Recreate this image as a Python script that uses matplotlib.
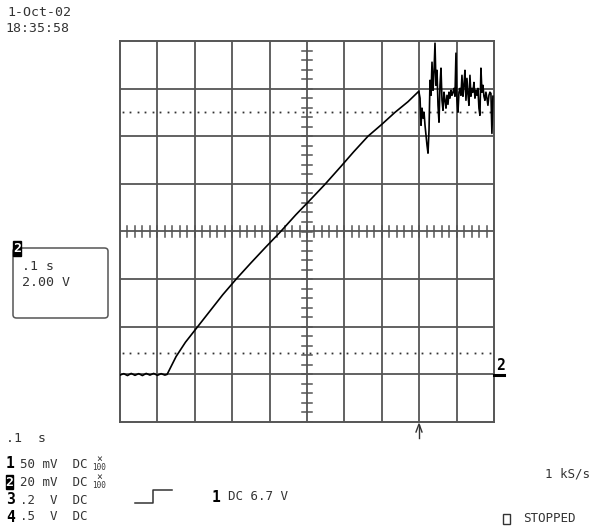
import numpy as np
import matplotlib
matplotlib.use("Agg")
import matplotlib.pyplot as plt
from matplotlib.patches import FancyBboxPatch, Rectangle

W, H = 599, 526
# ---------------- data (time in s, voltage in V) ----------------
base_t = [0.000, 0.010, 0.020, 0.030, 0.040, 0.050, 0.060, 0.070, 0.080, 0.090, 0.100, 0.110, 0.120, 0.126]
base_v = [-0.03, 0.03, -0.05, 0.04, -0.04, 0.03, -0.05, 0.04, -0.03, 0.04, -0.04, 0.03, -0.03, 0.00]

ramp_t = [0.150, 0.175, 0.206, 0.240, 0.275, 0.310, 0.350, 0.390, 0.428, 0.470, 0.510,
          0.548, 0.590, 0.625, 0.663, 0.700, 0.735, 0.770, 0.799]
ramp_v = [0.75, 1.35, 1.97, 2.65, 3.35, 3.99, 4.68, 5.35, 5.97, 6.70, 7.35,
          7.98, 8.72, 9.35, 10.00, 10.50, 11.00, 11.45, 11.89]

noise_v = [11.60, 10.46, 11.18, 10.76, 11.01, 10.46, 10.04, 9.62, 9.29, 10.25, 12.35, 11.72,
           13.11, 11.93, 12.69, 13.91, 12.14, 12.77, 11.30, 10.59, 12.14, 12.86, 11.51, 11.09,
           11.85, 11.51, 11.18, 11.72, 11.34, 11.85, 11.60, 11.93, 11.72, 11.85, 12.01, 11.68,
           13.49, 11.51, 11.01, 11.85, 12.01, 11.72, 12.56, 11.68, 12.14, 12.77, 11.51, 12.43,
           11.76, 11.30, 12.56, 11.68, 12.01, 11.85, 12.26, 11.60, 11.93, 11.72, 12.01, 11.18,
           10.88, 12.86, 11.85, 12.14, 11.68, 11.51, 11.85, 11.60, 11.30, 11.72, 11.85, 11.80,
           10.12, 11.68]
noise_t0, noise_dt = 0.8022, 0.00267
noise_t = noise_t0 + noise_dt * np.arange(len(noise_v))

cursor_levels = [0.90, 11.0]
t_div, v_div = 0.1, 2.0
n_xdiv, n_ydiv = 10, 8
v_min = -2.0

# ---------------- figure ----------------
fig = plt.figure(figsize=(W / 100, H / 100), dpi=100)
fig.patch.set_facecolor("white")
L, R, T, B = 120, 494, 41, 422
ax = fig.add_axes([L / W, 1 - B / H, (R - L) / W, (B - T) / H])
ax.set_xlim(0, n_xdiv * t_div)
ax.set_ylim(v_min, v_min + n_ydiv * v_div)
ax.set_xticks([]); ax.set_yticks([])
for s in ax.spines.values():
    s.set_color("#555555"); s.set_linewidth(1.4)

gc = "#555555"
for i in range(1, n_xdiv):
    ax.axvline(i * t_div, color=gc, lw=1.3, zorder=1)
for j in range(1, n_ydiv):
    ax.axhline(v_min + j * v_div, color=gc, lw=1.3, zorder=1)

# center graticule minor ticks
xc = n_xdiv / 2 * t_div
yc = v_min + n_ydiv / 2 * v_div
tx = np.arange(0, n_xdiv * t_div + 1e-9, t_div / 5)
tyv = np.arange(v_min, v_min + n_ydiv * v_div + 1e-9, v_div / 5)
dv = 5 / 47.6 * v_div
dt = 5 / 37.4 * t_div
for x in tx:
    ax.plot([x, x], [yc - dv, yc + dv], color=gc, lw=1.1, zorder=1)
for y in tyv:
    ax.plot([xc - dt, xc + dt], [y, y], color=gc, lw=1.1, zorder=1)

# dotted cursor lines drawn as evenly spaced dots
dot_x = np.arange(0.008, n_xdiv * t_div - 0.005, t_div / 5)
for c in cursor_levels:
    ax.plot(dot_x, np.full(len(dot_x), c), ls="none", marker="s", ms=1.3,
            mec="none", mfc="#333333", zorder=1)

t_all = list(base_t) + list(ramp_t) + list(noise_t)
v_all = list(base_v) + list(ramp_v) + list(noise_v)
ax.plot(t_all, v_all, color="black", lw=1.2, zorder=3, clip_on=True)

# ---------------- annotations ----------------
mono = "DejaVu Sans Mono"
tc = "#333333"

def ftext(x, y, s, **kw):
    kw.setdefault("family", mono)
    kw.setdefault("fontsize", 9.5)
    kw.setdefault("color", tc)
    kw.setdefault("va", "center")
    kw.setdefault("ha", "left")
    fig.text(x / W, 1 - y / H, s, **kw)

def inv_digit(x, y, s, w=8, h=14):
    fig.patches.append(Rectangle((x / W, 1 - (y + h / 2) / H), w / W, h / H,
                                 transform=fig.transFigure, facecolor="black", edgecolor="black"))
    fig.text((x + w / 2) / W, 1 - y / H, s, family=mono, fontsize=9.5, weight="bold",
             color="white", ha="center", va="center")

ftext(7, 13, "1-Oct-02")
ftext(5, 28, "18:35:58")

# channel box
fig.patches.append(FancyBboxPatch((13 / W, 1 - 318 / H), 95 / W, 70 / H,
                                  boxstyle="round,pad=0,rounding_size=0.006",
                                  transform=fig.transFigure, facecolor="none",
                                  edgecolor="#555555", lw=1.1))
inv_digit(13, 248, "2", w=8, h=15)
ftext(22, 266, ".1 s")
ftext(22, 282, "2.00 V")

# bottom left info
ftext(6, 438, ".1  s")
rows = [(464, "1", "50 mV  DC", True), (482, "2", "20 mV  DC", True),
        (500, "3", ".2  V  DC", False), (517, "4", ".5  V  DC", False)]
for y, n, s, x100 in rows:
    if n == "2":
        inv_digit(6, y, "2", w=7, h=14)
    else:
        ftext(6, y, n, fontsize=10.5, weight="bold", color="black")
    ftext(20, y, s, fontsize=9)
    if x100:
        ftext(99, y - 5, "×", fontsize=7, ha="center")
        ftext(99, y + 3, "100", fontsize=5.5, ha="center")

# trigger step symbol
fig.add_artist(plt.Line2D([135 / W, 153 / W, 153 / W, 172 / W],
                          [1 - 503 / H, 1 - 503 / H, 1 - 490 / H, 1 - 490 / H],
                          transform=fig.transFigure, color="#333333", lw=1.1))
ftext(212, 497, "1", fontsize=10.5, weight="bold", color="black")
ftext(228, 497, "DC 6.7 V", fontsize=9)
ftext(590, 474, "1 kS/s", ha="right", fontsize=9)
fig.patches.append(Rectangle((503 / W, 1 - 524 / H), 7 / W, 10 / H, transform=fig.transFigure,
                             facecolor="none", edgecolor="#333333", lw=1.0))
ftext(523, 518, "STOPPED", fontsize=9)

# trigger arrow below graticule
fig.add_artist(plt.Line2D([419 / W, 419 / W], [1 - 438 / H, 1 - 425 / H],
                          transform=fig.transFigure, color="#333333", lw=1.0))
fig.add_artist(plt.Line2D([416 / W, 419 / W, 422 / W], [1 - 432 / H, 1 - 424 / H, 1 - 432 / H],
                          transform=fig.transFigure, color="#333333", lw=1.0))

# ground marker for channel 2
ftext(496, 365, "2", fontsize=10.5, weight="bold", color="black")
fig.add_artist(plt.Line2D([494 / W, 504 / W], [1 - 375 / H, 1 - 375 / H],
                          transform=fig.transFigure, color="black", lw=2.2))

fig.savefig("out.png", dpi=100)
